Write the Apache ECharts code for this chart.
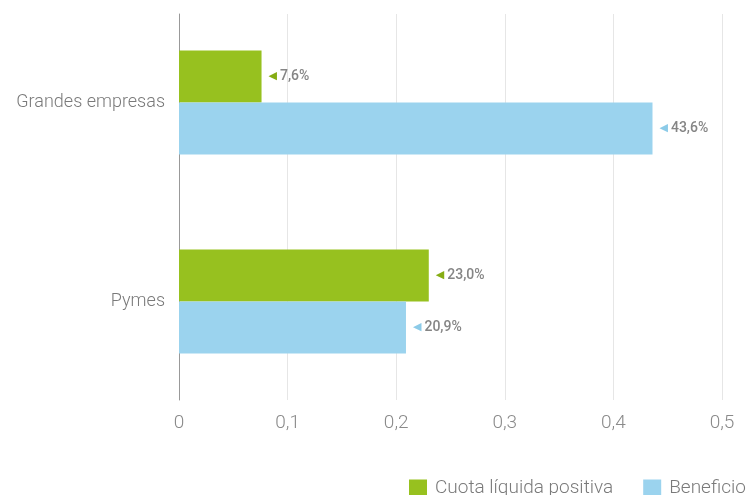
<!DOCTYPE html>
<html>
<head>
<meta charset="utf-8">
<style>
  html, body { margin: 0; padding: 0; background: #fff; }
  #chart { width: 752px; height: 495px; }
</style>
<script src="https://cdn.jsdelivr.net/npm/echarts@6/dist/echarts.min.js"></script>
</head>
<body>
<div id="chart"></div>
<script>
// Categories (top to bottom) and share values per series
const categories = ['Grandes empresas', 'Pymes'];
const cuotaLiquida = [0.076, 0.230];
const beneficio = [0.436, 0.209];
const seriesNames = ['Cuota líquida positiva', 'Beneficio'];
const xTicks = [0, 0.1, 0.2, 0.3, 0.4, 0.5];

const GREEN = '#97c11f';
const BLUE = '#9bd3ee';
const FONT = 'Roboto';

const fmtComma = v => String(v).replace('.', ',');
const fmtPct = v => (v * 100).toFixed(1).replace('.', ',') + '%';

function valueLabel(color) {
  return {
    show: true,
    position: 'right',
    distance: 7,
    formatter: p => '{t|\u25C0}{v|' + fmtPct(p.value) + '}',
    rich: {
      t: { color: color, fontSize: 11, padding: [0, 3, 1, 0], fontFamily: 'DejaVu Sans' },
      v: { color: '#858585', fontSize: 14, fontWeight: 500, fontFamily: FONT }
    }
  };
}

const chart = echarts.init(document.getElementById('chart'), null, { renderer: 'canvas' });

chart.setOption({
  animation: false,
  legend: {
    data: seriesNames,
    left: 404,
    top: 474,
    width: 600,
    itemWidth: 18,
    itemHeight: 18,
    itemGap: 30,
    icon: 'rect',
    textStyle: { color: '#7a7a7a', fontSize: 19, fontFamily: FONT, fontWeight: 300, padding: [0, 0, 0, 3] }
  },
  grid: [
    // frame: split lines, value ticks and the category axis line
    { left: 179, right: 30, top: 14, bottom: 95, containLabel: false },
    // bars
    { left: 179, right: 30, top: 3, bottom: 94, containLabel: false }
  ],
  xAxis: [
    {
      gridIndex: 0, type: 'value', min: 0, max: 0.5, interval: 0.1,
      axisLine: { show: false },
      axisTick: { show: false },
      splitLine: { show: true, lineStyle: { color: '#e6e6e6', width: 1 } },
      axisLabel: {
        color: '#8a8a8a', fontSize: 19, fontFamily: FONT, fontWeight: 300, margin: 14,
        formatter: v => fmtComma(+v.toFixed(1))
      }
    },
    {
      gridIndex: 1, type: 'value', min: 0, max: 0.5, interval: 0.1,
      axisLine: { show: false }, axisTick: { show: false },
      splitLine: { show: false }, axisLabel: { show: false }
    }
  ],
  yAxis: [
    {
      gridIndex: 0, type: 'category', data: categories, inverse: true,
      axisLine: { show: true, lineStyle: { color: '#999', width: 1 } },
      axisTick: { show: false }, axisLabel: { show: false }
    },
    {
      gridIndex: 1, type: 'category', data: categories, inverse: true,
      axisLine: { show: false }, axisTick: { show: false },
      axisLabel: { color: '#7a7a7a', fontSize: 18, fontFamily: FONT, fontWeight: 300, margin: 14 }
    }
  ],
  series: [
    {
      name: seriesNames[0], type: 'bar', xAxisIndex: 1, yAxisIndex: 1,
      data: cuotaLiquida, barWidth: 52, barGap: '0%',
      itemStyle: { color: GREEN },
      label: valueLabel('#86ad14')
    },
    {
      name: seriesNames[1], type: 'bar', xAxisIndex: 1, yAxisIndex: 1,
      data: beneficio, barWidth: 52, barGap: '0%',
      itemStyle: { color: BLUE },
      label: valueLabel('#8ccbe8')
    }
  ]
});
</script>
</body>
</html>
